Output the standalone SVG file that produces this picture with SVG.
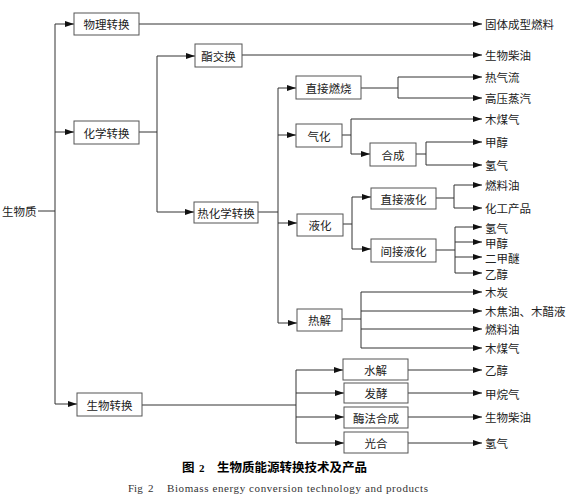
<svg xmlns="http://www.w3.org/2000/svg" width="567" height="500" viewBox="0 0 567 500">
<defs>
<marker id="ah" markerUnits="userSpaceOnUse" markerWidth="9" markerHeight="6" refX="9" refY="3" orient="auto">
<path d="M0,0 L9,3 L0,6 z" fill="#111"/>
</marker>
<style>
.b{fill:#fff;stroke:#555;stroke-width:1}
.l{fill:none;stroke:#333;stroke-width:1}
.a{fill:none;stroke:#333;stroke-width:1;marker-end:url(#ah)}
.t{font-family:"Noto Sans CJK SC","Noto Sans",sans-serif;font-size:11.5px;fill:#222;dominant-baseline:central}
.c{text-anchor:middle}
.cz{font-family:"Noto Sans CJK SC",sans-serif;font-size:12.5px;font-weight:bold;fill:#000}
.en{font-family:"Liberation Serif",serif;font-size:11px;fill:#333}
</style>
</defs>
<rect width="567" height="500" fill="#fff"/>
<g id="connectors">
<path class="l" d="M38,211 H55 M55,24 V404"/>
<path class="a" d="M55,24 H74"/>
<path class="a" d="M55,132 H74"/>
<path class="a" d="M55,404 H77"/>
<path class="a" d="M139,24 H482"/>
<path class="l" d="M139,132 H157 M157,56 V212"/>
<path class="a" d="M157,56 H195"/>
<path class="a" d="M157,212 H194"/>
<path class="a" d="M242,55 H482"/>
<path class="l" d="M258,212 H278 M278,88 V323"/>
<path class="a" d="M278,88 H296"/>
<path class="a" d="M278,135 H296"/>
<path class="a" d="M278,223 H297"/>
<path class="a" d="M278,323 H297"/>
<path class="l" d="M361,88 H398 M398,77 V98"/>
<path class="a" d="M398,77 H482"/>
<path class="a" d="M398,98 H482"/>
<path class="l" d="M342,135 H351 M351,119 V154"/>
<path class="a" d="M351,119 H482"/>
<path class="a" d="M351,154 H370"/>
<path class="l" d="M416,154 H426 M426,142 V165"/>
<path class="a" d="M426,142 H482"/>
<path class="a" d="M426,165 H482"/>
<path class="l" d="M343,224 H352 M352,197 V249"/>
<path class="a" d="M352,197 H371"/>
<path class="a" d="M352,249 H371"/>
<path class="l" d="M436,198 H454 M454,185 V208"/>
<path class="a" d="M454,185 H482"/>
<path class="a" d="M454,208 H482"/>
<path class="l" d="M436,250 H455 M455,227 V273"/>
<path class="a" d="M455,227 H482"/>
<path class="a" d="M455,242 H482"/>
<path class="a" d="M455,257 H482"/>
<path class="a" d="M455,273 H482"/>
<path class="l" d="M342,319 H361 M361,292 V348"/>
<path class="a" d="M361,292 H482"/>
<path class="a" d="M361,311 H482"/>
<path class="a" d="M361,329 H482"/>
<path class="a" d="M361,348 H482"/>
<path class="l" d="M142,405 H296 M296,370 V443"/>
<path class="a" d="M296,370 H343"/>
<path class="a" d="M296,393 H344"/>
<path class="a" d="M296,417 H344"/>
<path class="a" d="M296,443 H344"/>
<path class="a" d="M408,370 H482"/>
<path class="a" d="M408,393 H482"/>
<path class="a" d="M408,417 H482"/>
<path class="a" d="M408,443 H482"/>
</g>
<g id="n-biomass"><text class="t" x="2" y="211">生物质</text></g>
<g id="n-physical"><rect class="b" x="74" y="13" width="65" height="22"/><text class="t c" x="106.5" y="24">物理转换</text></g>
<g id="n-chemical"><rect class="b" x="74" y="121" width="65" height="23"/><text class="t c" x="106.5" y="132.5">化学转换</text></g>
<g id="n-bio"><rect class="b" x="77" y="393" width="65" height="23"/><text class="t c" x="109.5" y="404.5">生物转换</text></g>
<g id="n-ester"><rect class="b" x="195" y="44" width="47" height="23"/><text class="t c" x="218.5" y="55.5">酯交换</text></g>
<g id="n-thermo"><rect class="b" x="194" y="202" width="64" height="21"/><text class="t c" x="226" y="212.5">热化学转换</text></g>
<g id="n-combust"><rect class="b" x="296" y="76" width="65" height="23"/><text class="t c" x="328.5" y="87.5">直接燃烧</text></g>
<g id="n-gasify"><rect class="b" x="296" y="124" width="46" height="23"/><text class="t c" x="319" y="135.5">气化</text></g>
<g id="n-synth"><rect class="b" x="370" y="143" width="46" height="23"/><text class="t c" x="393" y="154.5">合成</text></g>
<g id="n-liquefy"><rect class="b" x="297" y="214" width="46" height="22"/><text class="t c" x="320" y="225">液化</text></g>
<g id="n-directliq"><rect class="b" x="371" y="188" width="65" height="21"/><text class="t c" x="403.5" y="198.5">直接液化</text></g>
<g id="n-indirectliq"><rect class="b" x="371" y="239" width="65" height="23"/><text class="t c" x="403.5" y="250.5">间接液化</text></g>
<g id="n-pyro"><rect class="b" x="297" y="309" width="45" height="22"/><text class="t c" x="319.5" y="320">热解</text></g>
<g id="n-hydro"><rect class="b" x="343" y="359" width="65" height="21"/><text class="t c" x="375.5" y="369.5">水解</text></g>
<g id="n-ferment"><rect class="b" x="344" y="383" width="64" height="20"/><text class="t c" x="376" y="393">发酵</text></g>
<g id="n-enzyme"><rect class="b" x="344" y="407" width="64" height="21"/><text class="t c" x="376" y="417.5">酶法合成</text></g>
<g id="n-photo"><rect class="b" x="344" y="432" width="64" height="21"/><text class="t c" x="376" y="442.5">光合</text></g>
<g id="products">
<text class="t" x="485" y="24">固体成型燃料</text>
<text class="t" x="485" y="55">生物柴油</text>
<text class="t" x="485" y="77">热气流</text>
<text class="t" x="485" y="98">高压蒸汽</text>
<text class="t" x="485" y="119">木煤气</text>
<text class="t" x="485" y="142">甲醇</text>
<text class="t" x="485" y="165">氢气</text>
<text class="t" x="485" y="185">燃料油</text>
<text class="t" x="485" y="208">化工产品</text>
<text class="t" x="485" y="228">氢气</text>
<text class="t" x="485" y="243">甲醇</text>
<text class="t" x="485" y="258">二甲醚</text>
<text class="t" x="485" y="274">乙醇</text>
<text class="t" x="485" y="292">木炭</text>
<text class="t" x="485" y="311">木焦油、木醋液</text>
<text class="t" x="485" y="329">燃料油</text>
<text class="t" x="485" y="348">木煤气</text>
<text class="t" x="485" y="370">乙醇</text>
<text class="t" x="485" y="394">甲烷气</text>
<text class="t" x="485" y="417">生物柴油</text>
<text class="t" x="485" y="443">氢气</text>
</g>
<g id="caption">
<text class="cz" y="472"><tspan x="182">图</tspan><tspan x="199" font-family="'Liberation Serif',serif" font-size="11">2</tspan><tspan x="217">生物质能源转换技术及产品</tspan></text>
<text class="en" y="492"><tspan x="128">Fig</tspan><tspan x="148">2</tspan><tspan x="167" textLength="261" lengthAdjust="spacing">Biomass energy conversion technology and products</tspan></text>
</g>
</svg>
